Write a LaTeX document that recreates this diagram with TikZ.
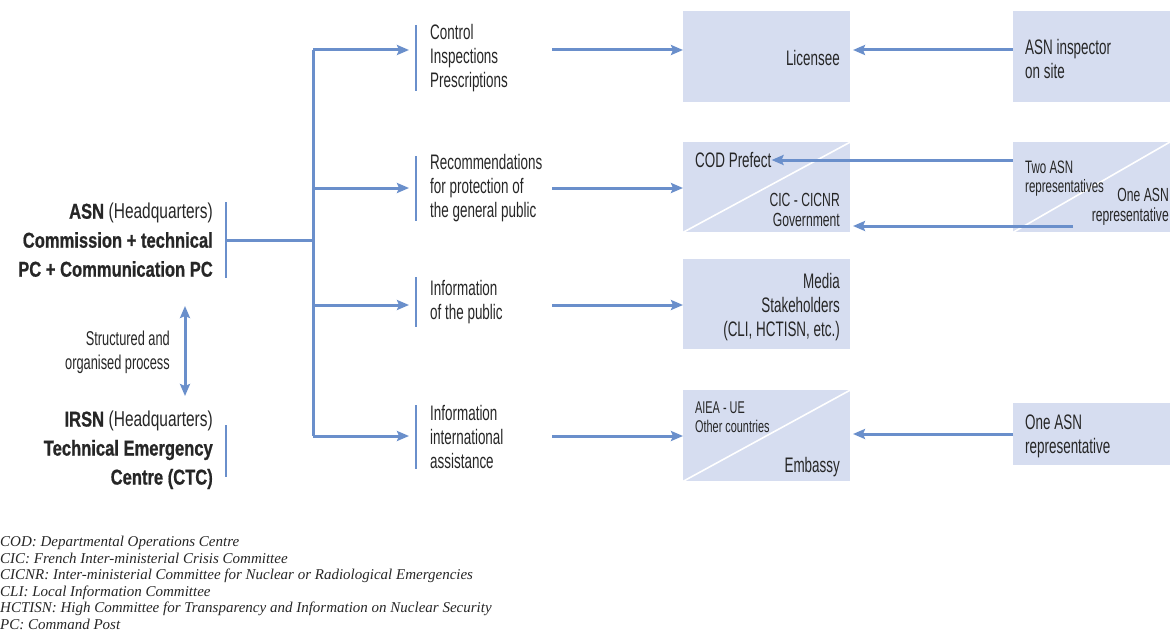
\documentclass[tikz,border=0pt]{standalone}
\usepackage{fontspec}
\usetikzlibrary{arrows.meta}
\newfontfamily\cf[FakeStretch=0.64]{Liberation Sans}
\newfontfamily\cfm[FakeStretch=0.72]{Liberation Sans}
\newfontfamily\cfb[FakeStretch=0.77,BoldFeatures={FakeBold=0.8}]{Liberation Sans}
\newfontfamily\notefont{Liberation Serif}
\definecolor{ablue}{HTML}{6A8FCB}
\definecolor{boxfill}{HTML}{D6DDF0}
\definecolor{txt}{HTML}{262626}
\tikzset{
  arr/.style={draw=ablue, line width=3pt, -{Stealth[length=12pt,width=10pt,inset=2pt]}},
  dbl/.style={draw=ablue, line width=3pt, {Stealth[length=12pt,width=10pt,inset=2pt]}-{Stealth[length=12pt,width=10pt,inset=2pt]}},
  trunk/.style={draw=ablue, line width=3pt},
  bar/.style={draw=ablue, line width=2pt},
  box/.style={fill=boxfill, draw=none, inner sep=0pt, anchor=north west},
  diag/.style={draw=white, line width=1.6pt},
  mid/.style={anchor=west, align=left, inner sep=0pt, text=txt, font=\cf\fontsize{21}{24}\selectfont},
  rtx/.style={anchor=east, align=right, inner sep=0pt, text=txt, font=\cf\fontsize{21}{24}\selectfont},
  ltx/.style={anchor=west, align=left, inner sep=0pt, text=txt, font=\cf\fontsize{21}{24}\selectfont},
  small/.style={inner sep=0pt, text=txt, font=\cf\fontsize{19}{20}\selectfont},
  big/.style={anchor=east, align=right, inner sep=0pt, text=txt, font=\cfb\fontsize{21.5}{29}\selectfont},
}
\begin{document}
\begin{tikzpicture}[x=1pt,y=-1pt]
\useasboundingbox (0,0) rectangle (1170,634);
% boxes
\node[box, minimum width=167pt, minimum height=91pt] (b1) at (683,11) {};
\node[box, minimum width=167pt, minimum height=90pt] (b2) at (683,142) {};
\node[box, minimum width=167pt, minimum height=90pt] (b3) at (683,259) {};
\node[box, minimum width=167pt, minimum height=91pt] (b4) at (683,390) {};
\node[box, minimum width=160pt, minimum height=91pt] (r1) at (1013,11) {};
\node[box, minimum width=160pt, minimum height=90pt] (r2) at (1013,142) {};
\node[box, minimum width=160pt, minimum height=62pt] (r4) at (1013,403) {};
\draw[diag] (b2.south west) -- (b2.north east);
\draw[diag] (b4.south west) -- (b4.north east);
\draw[diag] (r2.south west) -- (1170,142);
% box texts
\node[rtx] (lic) at (840,58) {Licensee};
\node[ltx] (insp) at (1025,59) {ASN inspector\\on site};
\node[ltx] (cod) at (695,160) {COD Prefect};
\node[small, anchor=east, align=right] (cic) at (840,210) {CIC - CICNR\\Government};
\node[small, anchor=west, align=left, font=\cf\fontsize{18}{19}\selectfont] (two) at (1025,179) {Two ASN\\representatives};
\node[small, anchor=east, align=right] (one) at (1169,207) {One ASN\\representative};
\node[rtx] (media) at (840,307) {Media\\Stakeholders\\(CLI, HCTISN, etc.)};
\node[small, anchor=west, align=left, font=\cf\fontsize{17}{19}\selectfont] (aiea) at (695,417) {AIEA - UE\\Other countries};
\node[rtx] (emb) at (840,467) {Embassy};
\node[ltx] (one4) at (1025,436) {One ASN\\representative};
% middle texts
\node[mid] (t1) at (430,58) {Control\\Inspections\\Prescriptions};
\node[mid] (t2) at (430,188) {Recommendations\\for protection of\\the general public};
\node[mid] (t3) at (430,302) {Information\\of the public};
\node[mid] (t4) at (430,437) {Information\\international\\assistance};
\draw[bar] (416,25) -- (416,91);
\draw[bar] (416,156) -- (416,221);
\draw[bar] (416,277) -- (416,327);
\draw[bar] (416,405) -- (416,469);
% left texts
\node[big] (asn) at (213,240) {{\bfseries ASN} {\cfm\mdseries(Headquarters)}\\{\bfseries Commission + technical}\\{\bfseries PC + Communication PC}};
\node[big] (irsn) at (213,450) {{\bfseries IRSN} {\cfm\mdseries(Headquarters)}\\{\bfseries Technical Emergency}\\{\bfseries Centre (CTC)}};
\coordinate (asnbarT) at (226,202);
\coordinate (asnbarB) at (226,278);
\coordinate (asnbar) at (226,240);
\draw[bar] (asnbarT) -- (asnbarB);
\draw[bar] (226,425) -- (226,477);
\node[anchor=east, align=right, inner sep=0pt, text=txt, font=\cf\fontsize{20}{24}\selectfont] (struct) at (170,352) {Structured and\\organised process};
\coordinate (dT) at (185,306);
\coordinate (dB) at (185,396);
\draw[dbl] (dT) -- (dB);
% trunk
\coordinate (j0) at (313,240);
\coordinate (j1) at (313,50);
\coordinate (j2) at (313,188);
\coordinate (j3) at (313,305);
\coordinate (j4) at (313,436);
\draw[trunk] (asnbar) -- (j0);
\draw[trunk] (j1) -- (j4);
\draw[arr] (j1) -- (409,50);
\draw[arr] (j2) -- (409,188);
\draw[arr] (j3) -- (409,305);
\draw[arr] (j4) -- (409,436);
% to boxes
\draw[arr] (552,50) -- (b1.west |- 0,50);
\draw[arr] (552,188) -- (b2.west |- 0,188);
\draw[arr] (552,305) -- (b3.west |- 0,305);
\draw[arr] (552,436) -- (b4.west |- 0,436);
% from right
\draw[arr] (r1.west |- 0,50) -- (853,50);
\draw[arr] (r2.west |- 0,160) -- (cod.east);
\draw[arr] (1073,226) -- (853,226);
\draw[arr] (r4.west |- 0,434) -- (853,434);
% footnotes
\node[anchor=west, align=left, inner sep=0pt, text=txt, font=\notefont\itshape\fontsize{15}{16.5}\selectfont] (notes) at (0,583) {COD: Departmental Operations Centre\\CIC: French Inter-ministerial Crisis Committee\\CICNR: Inter-ministerial Committee for Nuclear or Radiological Emergencies\\CLI: Local Information Committee\\HCTISN: High Committee for Transparency and Information on Nuclear Security\\PC: Command Post};
\end{tikzpicture}
\end{document}
